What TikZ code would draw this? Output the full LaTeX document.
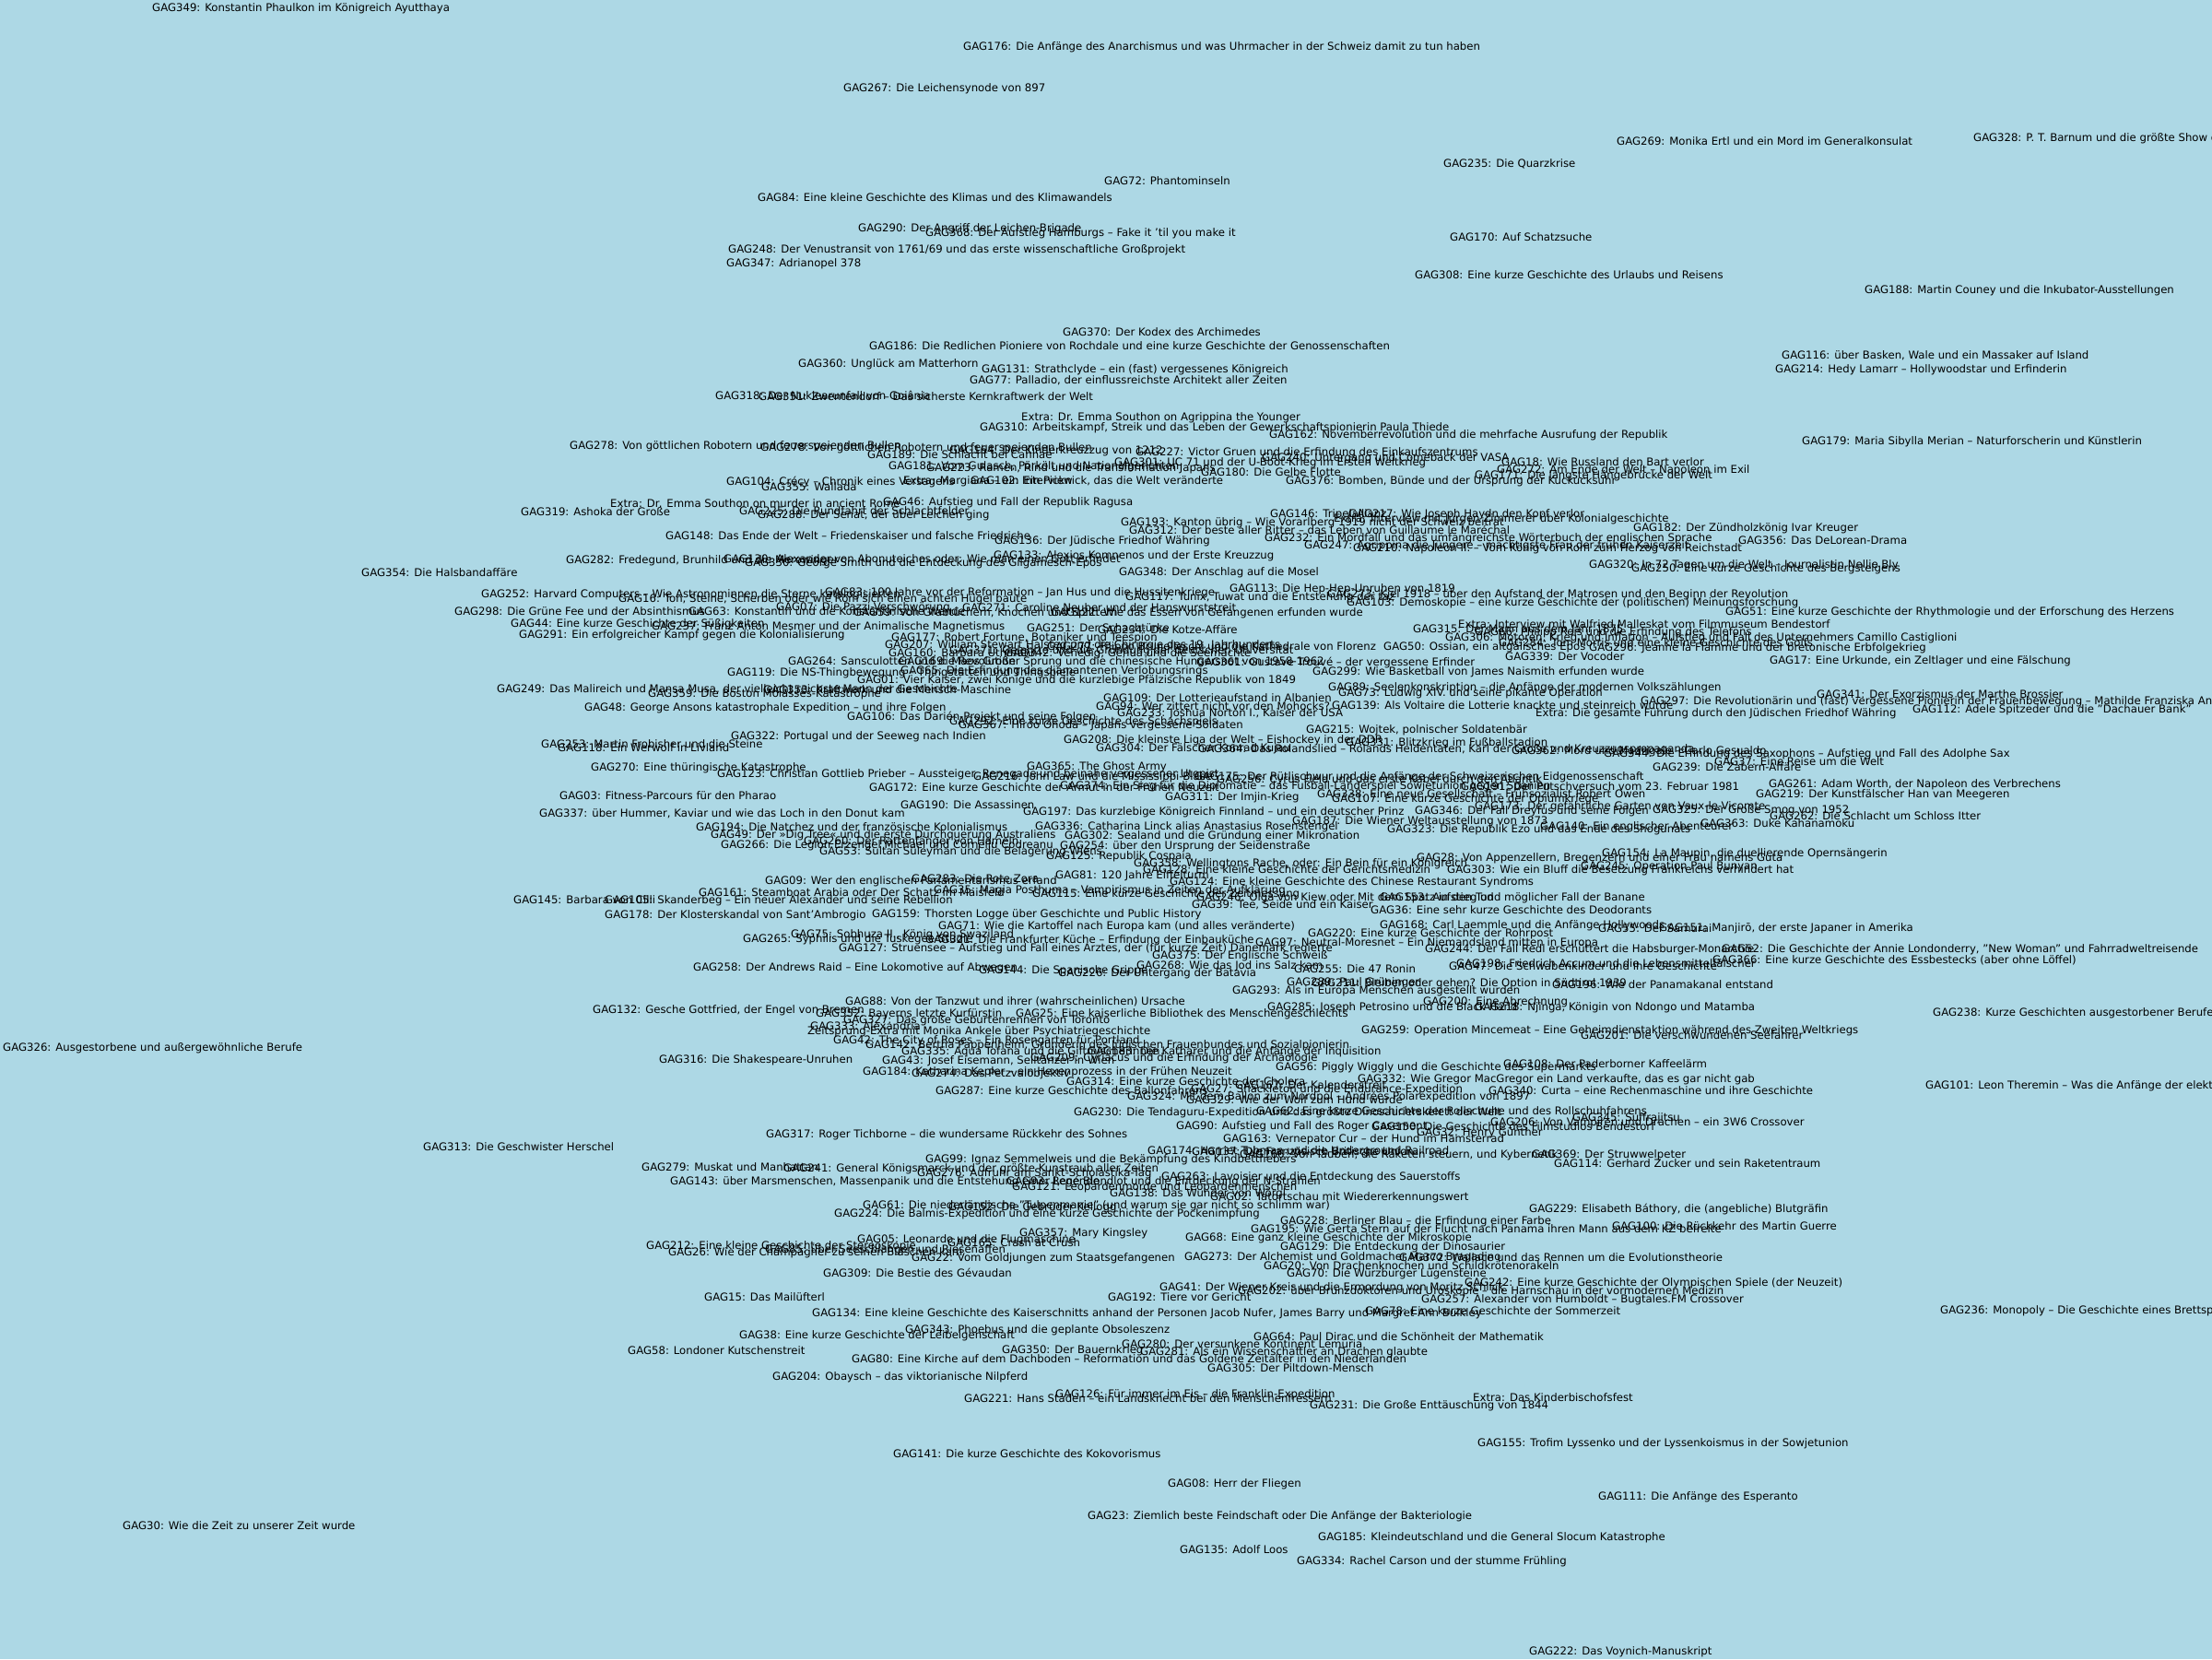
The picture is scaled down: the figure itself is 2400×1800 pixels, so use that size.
\documentclass[tikz,border=0pt]{standalone}
\usepackage{fontspec}
\setmainfont{DejaVu Sans}
\usepackage[svgnames]{xcolor}
\usepackage{tikz}
\newcommand{\gagfont}{\fontsize{11.7}{14}\selectfont}

\begin{document}
\begin{tikzpicture}[
  x=1pt, y=-1pt,
  every node/.style={font=\gagfont, text=black},
  ep/.style={anchor=west, inner sep=0pt},
]
  \fill[LightBlue] (0,0) rectangle (2400,1800);
  \useasboundingbox (0,0) rectangle (2400,1800);

  % outer ring, top
  \node[ep] (g349) at (165,9) {GAG349: Konstantin Phaulkon im Königreich Ayutthaya};
  \node[ep] (g176) at (1045,51) {GAG176: Die Anfänge des Anarchismus und was Uhrmacher in der Schweiz damit zu tun haben};
  \node[ep] (g267) at (915,96) {GAG267: Die Leichensynode von 897};
  \node[ep] (g269) at (1754,153) {GAG269: Monika Ertl und ein Mord im Generalkonsulat};
  \node[ep] (g328) at (2141,150) {GAG328: P. T. Barnum und die größte Show der Welt};
  \node[ep] (g235) at (1566,178) {GAG235: Die Quarzkrise};
  \node[ep] (g72) at (1198,196) {GAG72: Phantominseln};
  \node[ep] (g84) at (822,214) {GAG84: Eine kleine Geschichte des Klimas und des Klimawandels};
  \node[ep] (g290) at (931,248) {GAG290: Der Angriff der Leichen-Brigade};
  \node[ep] (g368) at (1004,253) {GAG368: Der Aufstieg Hamburgs – Fake it 'til you make it};
  \node[ep] (g170) at (1573,257) {GAG170: Auf Schatzsuche};
  \node[ep] (g248) at (790,271) {GAG248: Der Venustransit von 1761/69 und das erste wissenschaftliche Großprojekt};
  \node[ep] (g347) at (788,286) {GAG347: Adrianopel 378};
  \node[ep] (g308) at (1535,298) {GAG308: Eine kurze Geschichte des Urlaubs und Reisens};
  \node[ep] (g188) at (2023,315) {GAG188: Martin Couney und die Inkubator-Ausstellungen};
  \node[ep] (g370) at (1153,360) {GAG370: Der Kodex des Archimedes};
  \node[ep] (g186) at (943,375) {GAG186: Die Redlichen Pioniere von Rochdale und eine kurze Geschichte der Genossenschaften};
  \node[ep] (g116) at (1933,386) {GAG116: über Basken, Wale und ein Massaker auf Island};
  \node[ep] (g214) at (1926,401) {GAG214: Hedy Lamarr – Hollywoodstar und Erfinderin};
  \node[ep] (g360) at (866,395) {GAG360: Unglück am Matterhorn};
  \node[ep] (g131) at (1065,401) {GAG131: Strathclyde – ein (fast) vergessenes Königreich};
  \node[ep] (g77) at (1052,413) {GAG77: Palladio, der einflussreichste Architekt aller Zeiten};
  \node[ep] (g318) at (776,429) {GAG318: Der Nuklearunfall von Goiânia};
  \node[ep] (g351) at (823,430) {GAG351: Zwentendorf – Das sicherste Kernkraftwerk der Welt};

  % upper band
  \node[ep] (xagri) at (1108,453) {Extra: Dr. Emma Southon on Agrippina the Younger};
  \node[ep] (g310) at (1063,464) {GAG310: Arbeitskampf, Streik und das Leben der Gewerkschaftspionierin Paula Thiede};
  \node[ep] (g162) at (1377,472) {GAG162: Novemberrevolution und die mehrfache Ausrufung der Republik};
  \node[ep] (g179) at (1955,479) {GAG179: Maria Sibylla Merian – Naturforscherin und Künstlerin};
  \node[ep] (g278) at (618,484) {GAG278: Von göttlichen Robotern und feuerspeienden Bullen};
  \node[ep] (g278b) at (825,486) {GAG278: Von göttlichen Robotern und feuerspeienden Bullen};
  \node[ep] (g189) at (941,493) {GAG189: Die Schlacht bei Cannae};
  \node[ep] (g164) at (1030,489) {GAG164: Der Kinderkreuzzug von 1212};
  \node[ep] (g227) at (1232,491) {GAG227: Victor Gruen und die Erfindung des Einkaufszentrums};
  \node[ep] (g240) at (1369,497) {GAG240: Untergang und Comeback der VASA};
  \node[ep] (g301) at (1209,502) {GAG301: UC 71 und der U-Boot-Krieg im Ersten Weltkrieg};
  \node[ep] (g18) at (1629,501) {GAG18: Wie Russland den Bart verlor};
  \node[ep] (g181) at (964,506) {GAG181: Vom Gulasch, Pörkölt und Nationalgerichten};
  \node[ep] (g223) at (1005,508) {GAG223: Ramen, Rind und die Transformation Japans};
  \node[ep] (g180) at (1303,512) {GAG180: Die Gelbe Flotte};
  \node[ep] (g272) at (1624,510) {GAG272: Am Ende der Welt – Napoleon im Exil};
  \node[ep] (g171) at (1600,516) {GAG171: Die längste Hängebrücke der Welt};
  \node[ep] (g104) at (788,523) {GAG104: Crécy – Chronik eines Versagens};
  \node[ep] (g355) at (826,528) {GAG355: Wallada};
  \node[ep] (xmarg) at (980,522) {Extra: Margiana – ein Interview};
  \node[ep] (g102) at (1053,522) {GAG102: Ein Picknick, das die Welt veränderte};
  \node[ep] (g376) at (1395,522) {GAG376: Bomben, Bünde und der Ursprung der Kuckucksuhr};
  \node[ep] (xmurd) at (662,546) {Extra: Dr. Emma Southon on murder in ancient Rome};
  \node[ep] (g46) at (958,545) {GAG46: Aufstieg und Fall der Republik Ragusa};
  \node[ep] (g319) at (565,555) {GAG319: Ashoka der Große};
  \node[ep] (g225) at (802,554) {GAG225: Die Rundfahrt der Schlachtfelder};
  \node[ep] (g288) at (822,559) {GAG288: Der Senat, der über Leichen ging};
  \node[ep] (g193) at (1216,567) {GAG193: Kanton übrig – Wie Vorarlberg 1919 nicht der Schweiz beitrat};
  \node[ep] (g146) at (1378,558) {GAG146: Tripelallianz};
  \node[ep] (g217) at (1463,558) {GAG217: Wie Joseph Haydn den Kopf verlor};
  \node[ep] (xzimm) at (1447,563) {Extra: Interview mit Jürgen Zimmerer über Kolonialgeschichte};
  \node[ep] (g312) at (1225,575) {GAG312: Der beste aller Ritter – das Leben von Guillaume le Maréchal};
  \node[ep] (g182) at (1772,573) {GAG182: Der Zündholzkönig Ivar Kreuger};
  \node[ep] (g148) at (722,581) {GAG148: Das Ende der Welt – Friedenskaiser und falsche Friedriche};
  \node[ep] (g136) at (1079,587) {GAG136: Der Jüdische Friedhof Währing};
  \node[ep] (g232) at (1372,584) {GAG232: Ein Mordfall und das umfangreichste Wörterbuch der englischen Sprache};
  \node[ep] (g356) at (1886,586) {GAG356: Das DeLorean-Drama};
  \node[ep] (g247) at (1415,592) {GAG247: Agrippina die Jüngere – mächtigste Frau der frühen Kaiserzeit};
  \node[ep] (g210) at (1468,595) {GAG210: Napoleon II. – Vom König von Rom zum Herzog von Reichstadt};
  \node[ep] (g282) at (614,608) {GAG282: Fredegund, Brunhild und die Merowinger};
  \node[ep] (g130) at (785,606) {GAG130: Alexander von Abonuteichos oder: Wie man einen Gott erfindet};
  \node[ep] (g330) at (808,611) {GAG330: George Smith und die Entdeckung des Gilgamesch-Epos};
  \node[ep] (g133) at (1078,603) {GAG133: Alexios Komnenos und der Erste Kreuzzug};
  \node[ep] (g354) at (392,621) {GAG354: Die Halsbandaffäre};
  \node[ep] (g348) at (1214,621) {GAG348: Der Anschlag auf die Mosel};
  \node[ep] (g320) at (1724,613) {GAG320: In 72 Tagen um die Welt – Journalistin Nellie Bly};
  \node[ep] (g250) at (1770,617) {GAG250: Eine kurze Geschichte des Bergsteigens};

  % dense core
  \node[ep] (g113) at (1334,639) {GAG113: Die Hep-Hep-Unruhen von 1819};
  \node[ep] (g83) at (895,643) {GAG83: 100 Jahre vor der Reformation – Jan Hus und die Hussitenkriege};
  \node[ep] (g252) at (522,645) {GAG252: Harvard Computers – Wie Astronominnen die Sterne katalogisierten};
  \node[ep] (g16) at (671,650) {GAG16: Ton, Steine, Scherben oder wie Rom sich einen achten Hügel baute};
  \node[ep] (g117) at (1221,648) {GAG117: Tunix, Tuwat und die Entstehung der taz};
  \node[ep] (g273) at (1440,645) {GAG273: Kiel 1918 – über den Aufstand der Matrosen und den Beginn der Revolution};
  \node[ep] (g103) at (1461,654) {GAG103: Demoskopie – eine kurze Geschichte der (politischen) Meinungsforschung};
  \node[ep] (g298) at (493,663) {GAG298: Die Grüne Fee und der Absinthismus};
  \node[ep] (g63) at (747,663) {GAG63: Konstantin und die Konstantinische Wende};
  \node[ep] (g07) at (842,659) {GAG07: Die Pazzi-Verschwörung};
  \node[ep] (g271) at (1044,659) {GAG271: Caroline Neuber und der Hanswurststreit};
  \node[ep] (g59) at (926,665) {GAG59: Von Grabtüchern, Knochen und Splittern};
  \node[ep] (g122) at (1140,665) {GAG122: Wie das Essen von Gefangenen erfunden wurde};
  \node[ep] (g51) at (1872,664) {GAG51: Eine kurze Geschichte der Rhythmologie und der Erforschung des Herzens};
  \node[ep] (g44) at (554,677) {GAG44: Eine kurze Geschichte der Süßigkeiten};
  \node[ep] (g237) at (707,680) {GAG237: Franz Anton Mesmer und der Animalische Magnetismus};
  \node[ep] (g251) at (1114,681) {GAG251: Der Schachtürke};
  \node[ep] (g234) at (1191,683) {GAG234: Die Kotze-Affäre};
  \node[ep] (xmall) at (1582,677) {Extra: Interview mit Walfried Malleskat vom Filmmuseum Bendestorf};
  \node[ep] (g315) at (1533,683) {GAG315: Der Mann aus dem Jahr 1875};
  \node[ep] (g66) at (1600,686) {GAG66: Philipp Reis und die Erfindung des Telefons};
  \node[ep] (g291) at (563,689) {GAG291: Ein erfolgreicher Kampf gegen die Kolonialisierung};
  \node[ep] (g177) at (967,692) {GAG177: Robert Fortune, Botaniker und Teespion};
  \node[ep] (g306) at (1568,692) {GAG306: Motoren, Krieg und Inflation – Aufstieg und Fall des Unternehmers Camillo Castiglioni};
  \node[ep] (g207) at (960,700) {GAG207: William Stewart Halsted und die Chirurgie des 19. Jahrhunderts};
  \node[ep] (g277) at (1136,702) {GAG277: Filippo Brunelleschi und die Kathedrale von Florenz};
  \node[ep] (g50) at (1501,702) {GAG50: Ossian, ein altgälisches Epos};
  \node[ep] (g284) at (1626,697) {GAG284: Tom Morris und eine kleine Geschichte des Golfs};
  \node[ep] (g296) at (1724,703) {GAG296: Jeanne la Flamme und der bretonische Erbfolgekrieg};
  \node[ep] (g160) at (964,708) {GAG160: Barbara Uthmann};
  \node[ep] (g371) at (1030,706) {GAG371: Gelehrte und die Gründung der deutschen Universität};
  \node[ep] (g342) at (1090,709) {GAG342: Venedig, Genua und die Seemächte};
  \node[ep] (g339) at (1633,712) {GAG339: Der Vocoder};
  \node[ep] (g264) at (855,717) {GAG264: Sansculotten und die Revolution};
  \node[ep] (g169) at (975,718) {GAG169: Maos Großer Sprung und die chinesische Hungersnot von 1958-1962};
  \node[ep] (g361) at (1298,719) {GAG361: Gustave Trouvé – der vergessene Erfinder};
  \node[ep] (g17) at (1920,717) {GAG17: Eine Urkunde, ein Zeltlager und eine Fälschung};
  \node[ep] (g299) at (1424,729) {GAG299: Wie Basketball von James Naismith erfunden wurde};
  \node[ep] (g119) at (789,730) {GAG119: Die NS-Thingbewegung – Thingstätten und Thingspiele};
  \node[ep] (g65) at (977,728) {GAG65: Die Erfindung des diamantenen Verlobungsrings};
  \node[ep] (g01) at (930,738) {GAG01: Vier Kaiser, zwei Könige und die kurzlebige Pfälzische Republik von 1849};
  \node[ep] (g249) at (539,748) {GAG249: Das Malireich und Mansa Musa, der vielleicht reichste Mann der Geschichte};
  \node[ep] (g359) at (703,753) {GAG359: Die Boston Molasses-Katastrophe};
  \node[ep] (g353) at (828,748) {GAG353: Kraftwerk und die Mensch-Maschine};
  \node[ep] (g89) at (1441,746) {GAG89: Seelenkonskription – die Anfänge der modernen Volkszählungen};
  \node[ep] (g73) at (1452,752) {GAG73: Ludwig XIV. und seine pikante Operation};
  \node[ep] (g341) at (1971,753) {GAG341: Der Exorzismus der Marthe Brossier};
  \node[ep] (g109) at (1197,757) {GAG109: Der Lotterieaufstand in Albanien};
  \node[ep] (g297) at (1780,761) {GAG297: Die Revolutionärin und (fast) vergessene Pionierin der Frauenbewegung – Mathilde Franziska Anneke};
  \node[ep] (g94) at (1189,766) {GAG94: Wer zittert nicht vor den Mohocks?};
  \node[ep] (g139) at (1445,765) {GAG139: Als Voltaire die Lotterie knackte und steinreich wurde};
  \node[ep] (g48) at (634,768) {GAG48: George Ansons katastrophale Expedition – und ihre Folgen};
  \node[ep] (g112) at (2075,770) {GAG112: Adele Spitzeder und die "Dachauer Bank"};
  \node[ep] (g233) at (1212,774) {GAG233: Joshua Norton I., Kaiser der USA};
  \node[ep] (xwaeh) at (1666,774) {Extra: Die gesamte Führung durch den Jüdischen Friedhof Währing};
  \node[ep] (g106) at (919,778) {GAG106: Das Darién-Projekt und seine Folgen};
  \node[ep] (g292) at (1030,783) {GAG292: Eine kurze Geschichte des Schachspiels};
  \node[ep] (g367) at (1040,787) {GAG367: Hiroo Onoda – Japans vergessene Soldaten};
  \node[ep] (g215) at (1417,792) {GAG215: Wojtek, polnischer Soldatenbär};
  \node[ep] (g322) at (793,799) {GAG322: Portugal und der Seeweg nach Indien};
  \node[ep] (g208) at (1154,803) {GAG208: Die kleinste Liga der Welt – Eishockey in der DDR};
  \node[ep] (g331) at (1460,806) {GAG331: Blitzkrieg im Fußballstadion};
  \node[ep] (g253) at (587,807) {GAG253: Martin Frobisher und die Steine};
  \node[ep] (g118) at (605,811) {GAG118: Ein Werwolf in Livland};
  \node[ep] (g304) at (1189,812) {GAG304: Der Fälscher Konrad Kujau};
  \node[ep] (g364) at (1300,813) {GAG364: Das Rolandslied – Rolands Heldentaten, Karl der Große und Kreuzzugspropaganda};
  \node[ep] (g362) at (1640,815) {GAG362: Mord und Madrigale – Carlo Gesualdo};
  \node[ep] (g344) at (1740,818) {GAG344: Die Erfindung des Saxophons – Aufstieg und Fall des Adolphe Sax};
  \node[ep] (g37) at (1860,826) {GAG37: Eine Reise um die Welt};
  \node[ep] (g239) at (1793,832) {GAG239: Die Zabern-Affäre};
  \node[ep] (g365) at (1114,832) {GAG365: The Ghost Army};
  \node[ep] (g270) at (641,833) {GAG270: Eine thüringische Katastrophe};
  \node[ep] (g123) at (778,840) {GAG123: Christian Gottlieb Prieber – Aussteiger, Renegade und beinahe vergessener Utopist};
  \node[ep] (g216) at (1056,843) {GAG216: John Law und die Mississippi-Blase};
  \node[ep] (g175) at (1296,843) {GAG175: Der Rütlischwur und die Anfänge der Schweizerischen Eidgenossenschaft};
  \node[ep] (g256) at (1320,846) {GAG256: Cyrus Field und das erste Kabel durch den Atlantik};
  \node[ep] (g172) at (943,854) {GAG172: Eine kurze Geschichte der Armut in der Frühen Neuzeit};
  \node[ep] (g374) at (1150,853) {GAG374: Ein Sieg für die Diplomatie – das Fußball-Länderspiel Sowjetunion gegen Spanien};
  \node[ep] (g191) at (1585,853) {GAG191: Der Putschversuch vom 23. Februar 1981};
  \node[ep] (g261) at (1919,851) {GAG261: Adam Worth, der Napoleon des Verbrechens};
  \node[ep] (g219) at (1905,862) {GAG219: Der Kunstfälscher Han van Meegeren};
  \node[ep] (g03) at (607,863) {GAG03: Fitness-Parcours für den Pharao};
  \node[ep] (g311) at (1264,865) {GAG311: Der Imjin-Krieg};
  \node[ep] (g338) at (1429,861) {GAG338: Eine neue Gesellschaft – Frühsozialist Robert Owen};
  \node[ep] (g107) at (1445,867) {GAG107: Eine kurze Geschichte der Opiumkriege};
  \node[ep] (g190) at (977,873) {GAG190: Die Assassinen};
  \node[ep] (g173) at (1600,875) {GAG173: Der gefährliche Garten von Vaux-le-Vicomte};
  \node[ep] (g325) at (1793,879) {GAG325: Der Große Smog von 1952};
  \node[ep] (g197) at (1110,881) {GAG197: Das kurzlebige Königreich Finnland – und ein deutscher Prinz};
  \node[ep] (g346) at (1535,880) {GAG346: Der Fall Dreyfus und seine Folgen};
  \node[ep] (g262) at (1920,885) {GAG262: Die Schlacht um Schloss Itter};
  \node[ep] (g363) at (1845,893) {GAG363: Duke Kahanamoku};
  \node[ep] (g337) at (585,883) {GAG337: über Hummer, Kaviar und wie das Loch in den Donut kam};
  \node[ep] (g187) at (1402,891) {GAG187: Die Wiener Weltausstellung von 1873};
  \node[ep] (g140) at (1671,897) {GAG140: Ein englischer Abenteurer};
  \node[ep] (g194) at (755,897) {GAG194: Die Natchez und der französische Kolonialismus};
  \node[ep] (g336) at (1123,897) {GAG336: Catharina Linck alias Anastasius Rosenstengel};
  \node[ep] (g323) at (1505,900) {GAG323: Die Republik Ezo und das Ende des Shogunats};
  \node[ep] (g49) at (771,906) {GAG49: Der »Dig Tree« und die erste Durchquerung Australiens};
  \node[ep] (g302) at (1155,907) {GAG302: Sealand und die Gründung einer Mikronation};
  \node[ep] (g260) at (872,913) {GAG260: Der Rattenfänger von Hameln};
  \node[ep] (g266) at (782,917) {GAG266: Die Legion Erzengel Michael und Corneliu Codreanu};
  \node[ep] (g254) at (1150,918) {GAG254: über den Ursprung der Seidenstraße};
  \node[ep] (g53) at (889,924) {GAG53: Sultan Süleyman und die Belagerung Wiens};
  \node[ep] (g125) at (1135,929) {GAG125: Republik Cospaia};
  \node[ep] (g358) at (1230,937) {GAG358: Wellingtons Rache, oder: Ein Bein für ein Königreich};
  \node[ep] (g128) at (1240,943) {GAG128: Eine kleine Geschichte der Gerichtsmedizin};
  \node[ep] (g28) at (1537,931) {GAG28: Von Appenzellern, Bregenzern und einer Frau namens Guta};
  \node[ep] (g154) at (1738,926) {GAG154: La Maupin, die duellierende Opernsängerin};
  \node[ep] (g245) at (1715,940) {GAG245: Operation Paul Bunyan};
  \node[ep] (g303) at (1570,944) {GAG303: Wie ein Bluff die Besetzung Frankreichs verhindert hat};
  \node[ep] (g09) at (830,956) {GAG09: Wer den englischen Parlamentarismus erfand};
  \node[ep] (g283) at (989,953) {GAG283: Die Rote Zora};
  \node[ep] (g81) at (1145,950) {GAG81: 120 Jahre Eiffelturm};
  \node[ep] (g124) at (1269,957) {GAG124: Eine kleine Geschichte des Chinese Restaurant Syndroms};
  \node[ep] (g161) at (758,968) {GAG161: Steamboat Arabia oder Der Schatz im Maisfeld};
  \node[ep] (g35) at (1013,966) {GAG35: Magia Posthuma – Vampirismus in Zeiten der Aufklärung};
  \node[ep] (g115) at (1120,970) {GAG115: Eine kurze Geschichte der Zeitmessung};
  \node[ep] (g145) at (557,976) {GAG145: Barbara von Cilli};
  \node[ep] (g105) at (656,977) {GAG105: Skanderbeg – Ein neuer Alexander und seine Rebellion};
  \node[ep] (g246) at (1298,974) {GAG246: Olga von Kiew oder Mit dem Spatz in den Tod};
  \node[ep] (g153) at (1497,974) {GAG153: Aufstieg und möglicher Fall der Banane};
  \node[ep] (g39) at (1293,982) {GAG39: Tee, Seide und ein Kaiser};
  \node[ep] (g36) at (1487,987) {GAG36: Eine sehr kurze Geschichte des Deodorants};
  \node[ep] (g159) at (946,992) {GAG159: Thorsten Logge über Geschichte und Public History};
  \node[ep] (g178) at (656,993) {GAG178: Der Klosterskandal von Sant'Ambrogio};

  % lower core
  \node[ep] (g168) at (1497,1004) {GAG168: Carl Laemmle und die Anfänge Hollywoods};
  \node[ep] (g71) at (1018,1005) {GAG71: Wie die Kartoffel nach Europa kam (und alles veränderte)};
  \node[ep] (g55) at (1734,1007) {GAG55: Der Samurai};
  \node[ep] (g151) at (1800,1007) {GAG151: Manjirō, der erste Japaner in Amerika};
  \node[ep] (g220) at (1419,1013) {GAG220: Eine kurze Geschichte der Rohrpost};
  \node[ep] (g75) at (858,1014) {GAG75: Sobhuza II., König von Swaziland};
  \node[ep] (g265) at (806,1019) {GAG265: Syphilis und die Tuskegee-Studie};
  \node[ep] (g321) at (1004,1020) {GAG321: Die Frankfurter Küche – Erfindung der Einbauküche};
  \node[ep] (g97) at (1362,1023) {GAG97: Neutral-Moresnet – Ein Niemandsland mitten in Europa};
  \node[ep] (g127) at (910,1029) {GAG127: Struensee – Aufstieg und Fall eines Arztes, der (für kurze Zeit) Dänemark regierte};
  \node[ep] (g244) at (1546,1030) {GAG244: Der Fall Redl erschüttert die Habsburger-Monarchie};
  \node[ep] (g52) at (1868,1030) {GAG52: Die Geschichte der Annie Londonderry, "New Woman" und Fahrradweltreisende};
  \node[ep] (g375) at (1250,1037) {GAG375: Der Englische Schweiß};
  \node[ep] (g366) at (1858,1042) {GAG366: Eine kurze Geschichte des Essbestecks (aber ohne Löffel)};
  \node[ep] (g198) at (1580,1045) {GAG198: Friedrich Accum und die Lebensmittelfälscher};
  \node[ep] (g47) at (1572,1048) {GAG47: Die Schwabenkinder und ihre Geschichte};
  \node[ep] (g255) at (1404,1051) {GAG255: Die 47 Ronin};
  \node[ep] (g268) at (1233,1048) {GAG268: Wie das Jod ins Salz kam};
  \node[ep] (g258) at (752,1050) {GAG258: Der Andrews Raid – Eine Lokomotive auf Abwegen};
  \node[ep] (g144) at (1062,1053) {GAG144: Die Spanische Grippe};
  \node[ep] (g226) at (1148,1056) {GAG226: Der Untergang der Batavia};
  \node[ep] (g289) at (1396,1066) {GAG289: Paul Grüninger};
  \node[ep] (g211) at (1423,1067) {GAG211: Bleiben oder gehen? Die Option in Südtirol 1939};
  \node[ep] (g196) at (1684,1068) {GAG196: Wie der Panamakanal entstand};
  \node[ep] (g293) at (1337,1075) {GAG293: Als in Europa Menschen ausgestellt wurden};
  \node[ep] (g88) at (917,1087) {GAG88: Von der Tanzwut und ihrer (wahrscheinlichen) Ursache};
  \node[ep] (g200) at (1544,1087) {GAG200: Eine Abrechnung};
  \node[ep] (g132) at (643,1096) {GAG132: Gesche Gottfried, der Engel von Bremen};
  \node[ep] (g285) at (1375,1093) {GAG285: Joseph Petrosino und die Black Hand};
  \node[ep] (g218) at (1600,1093) {GAG218: Njinga, Königin von Ndongo und Matamba};
  \node[ep] (g238) at (2097,1099) {GAG238: Kurze Geschichten ausgestorbener Berufe};
  \node[ep] (g352) at (885,1100) {GAG352: Bayerns letzte Kurfürstin};
  \node[ep] (g25) at (1102,1100) {GAG25: Eine kaiserliche Bibliothek des Menschengeschlechts};
  \node[ep] (g327) at (915,1107) {GAG327: Das große Geburtenrennen von Toronto};
  \node[ep] (g333) at (879,1113) {GAG333: Alexandria};
  \node[ep] (g259) at (1477,1118) {GAG259: Operation Mincemeat – Eine Geheimdienstaktion während des Zweiten Weltkriegs};
  \node[ep] (xankele) at (876,1119) {Zeitsprung-Extra mit Monika Ankele über Psychiatriegeschichte};
  \node[ep] (g201) at (1715,1123) {GAG201: Die verschwundenen Seefahrer};
  \node[ep] (g42) at (904,1129) {GAG42: The City of Roses – Ein Rosengarten für Portland};
  \node[ep] (g142) at (939,1134) {GAG142: Bertha Pappenheim, Gründerin des Jüdischen Frauenbundes und Sozialpionierin};
  \node[ep] (g326) at (3,1137) {GAG326: Ausgestorbene und außergewöhnliche Berufe};
  \node[ep] (g335) at (978,1141) {GAG335: Aqua Tofana und die Giftmischerinnen};
  \node[ep] (g183) at (1180,1141) {GAG183: Die Katharer und die Anfänge der Inquisition};
  \node[ep] (g209) at (1118,1148) {GAG209: Cyriacus und die Erfindung der Archäologie};
  \node[ep] (g316) at (715,1150) {GAG316: Die Shakespeare-Unruhen};
  \node[ep] (g43) at (957,1151) {GAG43: Josef Eisemann, Seiltänzer in Wien};
  \node[ep] (g108) at (1631,1154) {GAG108: Der Paderborner Kaffeelärm};
  \node[ep] (g56) at (1384,1158) {GAG56: Piggly Wiggly und die Geschichte des Supermarkts};
  \node[ep] (g184) at (936,1163) {GAG184: Katharina Kepler – ein Hexenprozess in der Frühen Neuzeit};
  \node[ep] (g274) at (989,1165) {GAG274: Das Petzvalobjektiv};
  \node[ep] (g332) at (1473,1171) {GAG332: Wie Gregor MacGregor ein Land verkaufte, das es gar nicht gab};
  \node[ep] (g314) at (1157,1173) {GAG314: Eine kurze Geschichte der Cholera};
  \node[ep] (g167) at (1340,1177) {GAG167: Der Kalenderstreit};
  \node[ep] (g27) at (1292,1182) {GAG27: Shackleton und die Endurance-Expedition};
  \node[ep] (g101) at (2089,1178) {GAG101: Leon Theremin – Was die Anfänge der elektronischen Musik mit Spionage zu tun haben};
  \node[ep] (g340) at (1615,1183) {GAG340: Curta – eine Rechenmaschine und ihre Geschichte};
  \node[ep] (g287) at (1015,1183) {GAG287: Eine kurze Geschichte des Ballonfahrens};
  \node[ep] (g324) at (1223,1190) {GAG324: Mit dem Ballon zum Nordpol – Andrées Polarexpedition von 1897};
  \node[ep] (g329) at (1287,1193) {GAG329: Wie der Wolf zum Hund wurde};
  \node[ep] (g62) at (1363,1205) {GAG62: Eine kurze Geschichte der Rollschuhe und des Rollschuhfahrens};
  \node[ep] (g230) at (1165,1207) {GAG230: Die Tendaguru-Expedition und das größte Dinosaurierskelett der Welt};
  \node[ep] (g345) at (1706,1213) {GAG345: Suffrajitsu};
  \node[ep] (g206) at (1617,1218) {GAG206: Von Vampiren und Drachen – ein 3W6 Crossover};
  \node[ep] (g90) at (1276,1222) {GAG90: Aufstieg und Fall des Roger Casement};
  \node[ep] (g150) at (1488,1222) {GAG150: Die Geschichte des Filmstudios Bendestorf};
  \node[ep] (g32) at (1537,1229) {GAG32: Henry Günther};
  \node[ep] (g317) at (831,1231) {GAG317: Roger Tichborne – die wundersame Rückkehr des Sohnes};
  \node[ep] (g163) at (1327,1236) {GAG163: Vernepator Cur – der Hund im Hamsterrad};
  \node[ep] (g313) at (459,1244) {GAG313: Die Geschwister Herschel};
  \node[ep] (g174) at (1245,1249) {GAG174: Harriet Tubman und die Underground Railroad};
  \node[ep] (g137) at (1293,1249) {GAG137: Die Französisch-Britische Union};
  \node[ep] (g166) at (1345,1253) {GAG166: Von Tauben, die Raketen steuern, und Kybernetik};
  \node[ep] (g369) at (1662,1253) {GAG369: Der Struwwelpeter};
  \node[ep] (g99) at (1004,1258) {GAG99: Ignaz Semmelweis und die Bekämpfung des Kindbettfiebers};
  \node[ep] (g114) at (1686,1262) {GAG114: Gerhard Zucker und sein Raketentraum};
  \node[ep] (g279) at (696,1266) {GAG279: Muskat und Manhattan};
  \node[ep] (g241) at (850,1268) {GAG241: General Königsmarck und der größte Kunstraub aller Zeiten};
  \node[ep] (g276) at (995,1273) {GAG276: Aufruhr am Sankt-Scholastika-Tag};
  \node[ep] (g263) at (1260,1277) {GAG263: Lavoisier und die Entdeckung des Sauerstoffs};
  \node[ep] (g143) at (727,1282) {GAG143: über Marsmenschen, Massenpanik und die Entstehung einer Legende};
  \node[ep] (g93) at (1092,1282) {GAG93: René Blondlot und die Entdeckung der N-Strahlen};
  \node[ep] (g121) at (1098,1288) {GAG121: Leopardenmorde und Leopardenmenschen};
  \node[ep] (g138) at (1204,1295) {GAG138: Das Wunder von Wörgl};
  \node[ep] (g02) at (1313,1299) {GAG02: Tatortschau mit Wiedererkennungswert};
  \node[ep] (g61) at (936,1308) {GAG61: Die niederländische "Tulpenmanie" (und warum sie gar nicht so schlimm war)};
  \node[ep] (g152) at (1029,1310) {GAG152: Die Gebrüder Kellogg};
  \node[ep] (g229) at (1659,1312) {GAG229: Elisabeth Báthory, die (angebliche) Blutgräfin};
  \node[ep] (g224) at (905,1317) {GAG224: Die Balmis-Expedition und eine kurze Geschichte der Pockenimpfung};
  \node[ep] (g228) at (1389,1325) {GAG228: Berliner Blau – die Erfindung einer Farbe};
  \node[ep] (g100) at (1749,1330) {GAG100: Die Rückkehr des Martin Guerre};
  \node[ep] (g195) at (1357,1333) {GAG195: Wie Gerta Stern auf der Flucht nach Panama ihren Mann aus dem KZ befreite};
  \node[ep] (g357) at (1106,1338) {GAG357: Mary Kingsley};
  \node[ep] (g68) at (1286,1343) {GAG68: Eine ganz kleine Geschichte der Mikroskopie};
  \node[ep] (g05) at (930,1345) {GAG05: Leonardo und die Flugmaschine};
  \node[ep] (g165) at (1028,1348) {GAG165: Crash at Crush};
  \node[ep] (g212) at (701,1352) {GAG212: Eine kleine Geschichte der Stereoskopie};
  \node[ep] (g129) at (1389,1353) {GAG129: Die Entdeckung der Dinosaurier};
  \node[ep] (g85) at (830,1356) {GAG85: über Seeschlangen und Riesenaffen};
  \node[ep] (g26) at (725,1359) {GAG26: Wie der Champagner zu seinen Bläschen kam};
  \node[ep] (g273b) at (1285,1364) {GAG273: Der Alchemist und Goldmacher Marco Bragadino};
  \node[ep] (g372) at (1518,1364) {GAG372: Wallace und das Rennen um die Evolutionstheorie};
  \node[ep] (g22) at (989,1365) {GAG22: Vom Goldjungen zum Staatsgefangenen};
  \node[ep] (g20) at (1371,1373) {GAG20: Von Drachenknochen und Schildkrötenorakeln};
  \node[ep] (g309) at (893,1381) {GAG309: Die Bestie des Gévaudan};
  \node[ep] (g70) at (1396,1382) {GAG70: Die Würzburger Lügensteine};
  \node[ep] (g242) at (1589,1392) {GAG242: Eine kurze Geschichte der Olympischen Spiele (der Neuzeit)};
  \node[ep] (g41) at (1258,1397) {GAG41: Der Wiener Kreis und die Ermordung von Moritz Schlick};
  \node[ep] (g202) at (1343,1401) {GAG202: über Brunzdoktoren und Uroskopie – die Harnschau in der vormodernen Medizin};
  \node[ep] (g15) at (764,1407) {GAG15: Das Mailüfterl};
  \node[ep] (g192) at (1202,1407) {GAG192: Tiere vor Gericht};
  \node[ep] (g257) at (1542,1410) {GAG257: Alexander von Humboldt – Bugtales.FM Crossover};
  \node[ep] (g236) at (2105,1422) {GAG236: Monopoly – Die Geschichte eines Brettspiels};
  \node[ep] (g78) at (1481,1422) {GAG78: Eine kurze Geschichte der Sommerzeit};
  \node[ep] (g134) at (881,1425) {GAG134: Eine kleine Geschichte des Kaiserschnitts anhand der Personen Jacob Nufer, James Barry und Margret Ann Bulkley};
  \node[ep] (g343) at (982,1443) {GAG343: Phoebus und die geplante Obsoleszenz};
  \node[ep] (g38) at (802,1449) {GAG38: Eine kurze Geschichte der Leibeigenschaft};
  \node[ep] (g64) at (1360,1450) {GAG64: Paul Dirac und die Schönheit der Mathematik};
  \node[ep] (g280) at (1217,1458) {GAG280: Der versunkene Kontinent Lemuria};
  \node[ep] (g58) at (681,1465) {GAG58: Londoner Kutschenstreit};
  \node[ep] (g350) at (1087,1465) {GAG350: Der Bauernkrieg};
  \node[ep] (g281) at (1237,1467) {GAG281: Als ein Wissenschaftler an Drachen glaubte};
  \node[ep] (g80) at (924,1474) {GAG80: Eine Kirche auf dem Dachboden – Reformation und das Goldene Zeitalter in den Niederlanden};
  \node[ep] (g305) at (1310,1484) {GAG305: Der Piltdown-Mensch};
  \node[ep] (g204) at (838,1494) {GAG204: Obaysch – das viktorianische Nilpferd};

  % outer ring, bottom
  \node[ep] (g126) at (1145,1513) {GAG126: Für immer im Eis – die Franklin-Expedition};
  \node[ep] (xbisch) at (1598,1516) {Extra: Das Kinderbischofsfest};
  \node[ep] (g221) at (1046,1517) {GAG221: Hans Staden – ein Landsknecht bei den Menschenfressern};
  \node[ep] (g231) at (1421,1525) {GAG231: Die Große Enttäuschung von 1844};
  \node[ep] (g155) at (1603,1566) {GAG155: Trofim Lyssenko und der Lyssenkoismus in der Sowjetunion};
  \node[ep] (g141) at (969,1577) {GAG141: Die kurze Geschichte des Kokovorismus};
  \node[ep] (g08) at (1267,1610) {GAG08: Herr der Fliegen};
  \node[ep] (g111) at (1734,1624) {GAG111: Die Anfänge des Esperanto};
  \node[ep] (g23) at (1180,1645) {GAG23: Ziemlich beste Feindschaft oder Die Anfänge der Bakteriologie};
  \node[ep] (g30) at (133,1655) {GAG30: Wie die Zeit zu unserer Zeit wurde};
  \node[ep] (g185) at (1430,1668) {GAG185: Kleindeutschland und die General Slocum Katastrophe};
  \node[ep] (g135) at (1280,1681) {GAG135: Adolf Loos};
  \node[ep] (g334) at (1407,1694) {GAG334: Rachel Carson und der stumme Frühling};
  \node[ep] (g222) at (1659,1792) {GAG222: Das Voynich-Manuskript};
\end{tikzpicture}
\end{document}
